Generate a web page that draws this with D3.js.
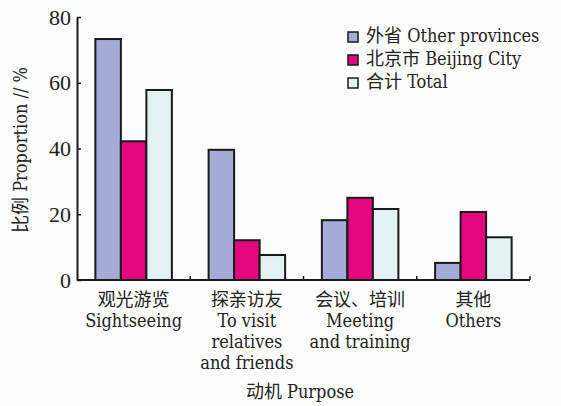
<!DOCTYPE html>
<html><head><meta charset="utf-8">
<script src="https://cdn.jsdelivr.net/npm/d3@7"></script>
<style>
body{margin:0;background:#fdfdfd;}
svg{display:block;}
</style></head>
<body>
<svg id="chart" width="561" height="406"></svg>
<script>
const categories = [
  ["观光游览","Sightseeing"],
  ["探亲访友","To visit","relatives","and friends"],
  ["会议、培训","Meeting","and training"],
  ["其他","Others"]
];
const seriesNames = ["外省 Other provinces","北京市 Beijing City","合计 Total"];
const seriesColors = ["#a3acd7","#e5077f","#e2f1f1"];
const otherProvinces = [73.3, 39.6, 18.2, 5.2];
const beijingCity = [42.2, 12.1, 25.0, 20.7];
const total = [57.8, 7.6, 21.6, 13.0];
const yTicks = [0,20,40,60,80];

(function(){
const svg = d3.select("#chart");
const mLeft = 77, mRight = 530, mTop = 17, mBottom = 280;
const lab = "'DejaVu Serif Condensed','DejaVu Serif','Noto Sans CJK SC',serif";
const serif = "'Liberation Serif','Times New Roman',serif";
const fs = 18, sx = 1;

const x0 = d3.scaleBand().domain(d3.range(categories.length)).range([mLeft, mRight]).paddingInner(0).paddingOuter(0);
const x1 = d3.scaleBand().domain(d3.range(seriesNames.length)).range([0, x0.bandwidth()]).paddingInner(0).paddingOuter(0.72);
const y = d3.scaleLinear().domain([0, 80]).range([mBottom, mTop]);

const data = [otherProvinces, beijingCity, total];

categories.forEach((c, ci) => {
  data.forEach((s, si) => {
    svg.append("rect")
      .attr("x", x0(ci) + x1(si))
      .attr("y", y(s[ci]))
      .attr("width", x1.bandwidth())
      .attr("height", y(0) - y(s[ci]))
      .attr("fill", seriesColors[si])
      .attr("stroke", "#1a1a1a")
      .attr("stroke-width", 2);
  });
});

const yAxis = d3.axisLeft(y).tickValues(yTicks).tickSizeInner(-4).tickSizeOuter(0).tickPadding(6);
const gy = svg.append("g").attr("transform", `translate(${mLeft},0)`).call(yAxis);
gy.select(".domain").attr("stroke", "#1a1a1a").attr("stroke-width", 2);
gy.selectAll(".tick line").attr("stroke", "#1a1a1a").attr("stroke-width", 1.5);
gy.selectAll(".tick text").style("font-family", serif).attr("font-size", 22).attr("fill", "#222");

svg.append("line").attr("x1", mLeft).attr("x2", mRight).attr("y1", mBottom).attr("y2", mBottom)
  .attr("stroke", "#1a1a1a").attr("stroke-width", 2);
d3.range(1, categories.length + 1).forEach(i => {
  const xx = i < categories.length ? x0(i) : mRight;
  svg.append("line").attr("x1", xx).attr("x2", xx).attr("y1", mBottom).attr("y2", mBottom - 4)
    .attr("stroke", "#1a1a1a").attr("stroke-width", 1.5);
});

function label(sel){
  return sel.style("font-family", lab).attr("font-size", fs).attr("fill", "#222")
    .attr("dominant-baseline", "middle");
}

categories.forEach((lines, ci) => {
  const cx = x0(ci) + x0.bandwidth() / 2;
  lines.forEach((t, li) => {
    label(svg.append("text")
      .attr("transform", `translate(${cx},${301 + li * 21}) scale(${sx},1)`)
      .attr("text-anchor", "middle"))
      .text(t);
  });
});

label(svg.append("text")
  .attr("transform", `translate(300,393) scale(${sx},1)`)
  .attr("text-anchor", "middle"))
  .text("动机 Purpose");

label(svg.append("text")
  .attr("transform", `translate(22,150) rotate(-90) scale(${sx},1)`)
  .attr("text-anchor", "middle"))
  .text("比例 Proportion // %");

seriesNames.forEach((n, i) => {
  const ly = 37 + i * 23;
  svg.append("rect").attr("x", 348).attr("y", ly - 5).attr("width", 10).attr("height", 10)
    .attr("fill", seriesColors[i]).attr("stroke", "#1a1a1a").attr("stroke-width", 1.5);
  label(svg.append("text")
    .attr("transform", `translate(366,${ly}) scale(${sx},1)`))
    .text(n);
});
})();
</script>
</body></html>
